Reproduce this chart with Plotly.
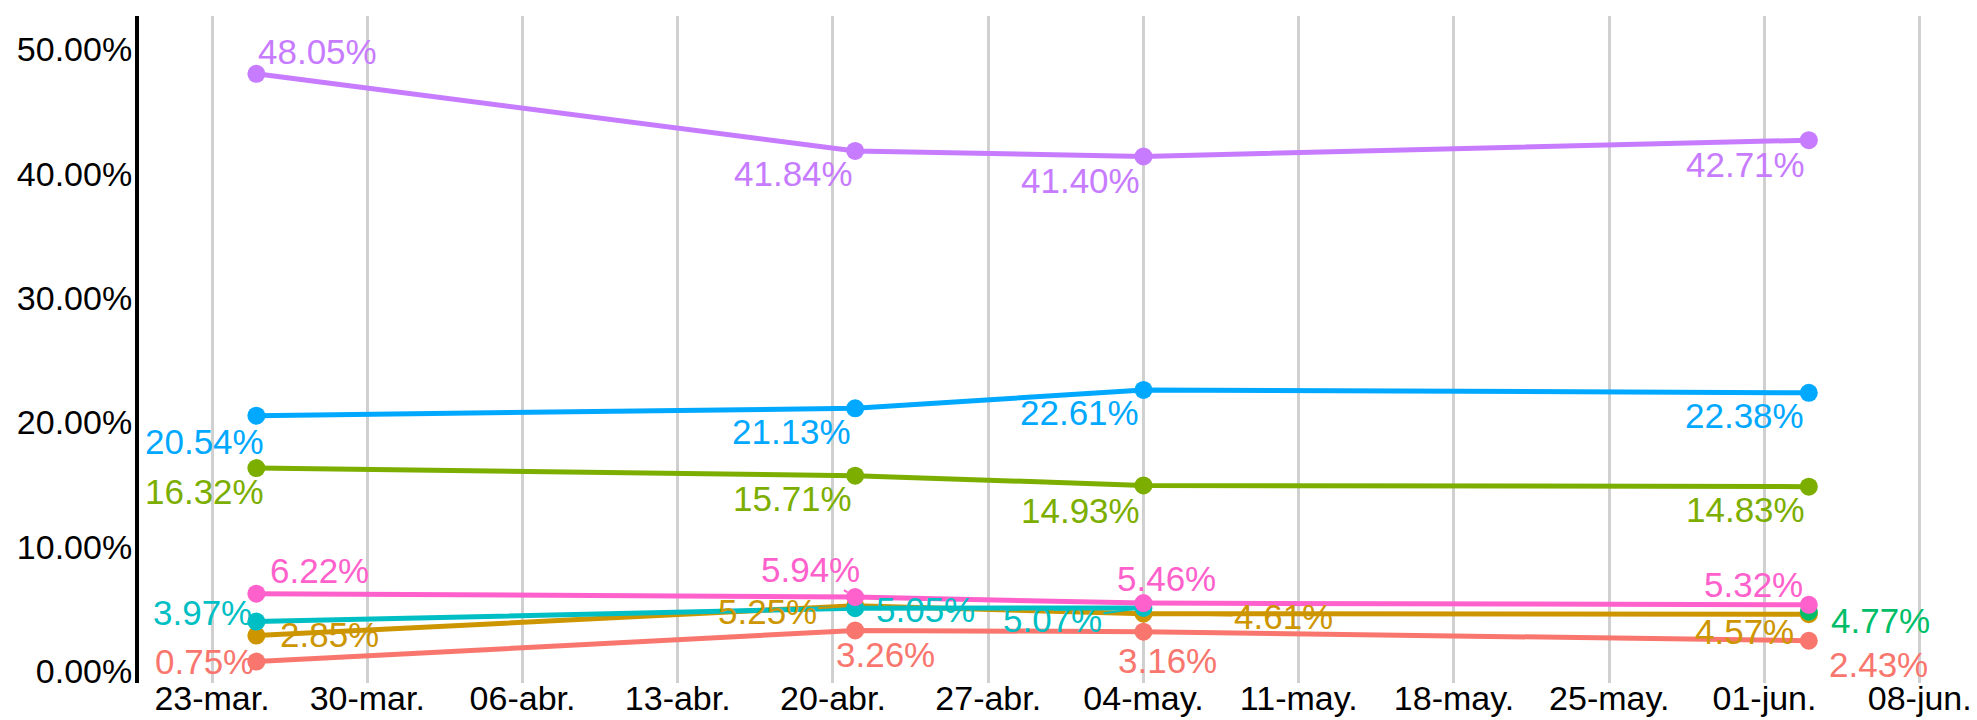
import plotly.graph_objects as go

# ---- data ----
series_names = ["s1", "s2", "s3", "s4", "s5", "s6", "s7", "s8"]
colors = ["#F8766D", "#CD9600", "#7CAE00", "#00BE67", "#00BFC4", "#00A9FF", "#C77CFF", "#FF61CC"]

dates_all = ["2020-03-25", "2020-04-21", "2020-05-04", "2020-06-03"]

red_dates = dates_all
red_vals = [0.75, 3.26, 3.16, 2.43]
gold_dates = dates_all
gold_vals = [2.85, 5.25, 4.61, 4.57]
olive_dates = dates_all
olive_vals = [16.32, 15.71, 14.93, 14.83]
green_dates = ["2020-06-03"]
green_vals = [4.77]
teal_dates = ["2020-03-25", "2020-04-21", "2020-05-04"]
teal_vals = [3.97, 5.05, 5.07]
blue_dates = dates_all
blue_vals = [20.54, 21.13, 22.61, 22.38]
purple_dates = dates_all
purple_vals = [48.05, 41.84, 41.40, 42.71]
pink_dates = dates_all
pink_vals = [6.22, 5.94, 5.46, 5.32]

tick_dates = ["2020-03-23", "2020-03-30", "2020-04-06", "2020-04-13", "2020-04-20", "2020-04-27",
              "2020-05-04", "2020-05-11", "2020-05-18", "2020-05-25", "2020-06-01", "2020-06-08"]
tick_labels = ["23-mar.", "30-mar.", "06-abr.", "13-abr.", "20-abr.", "27-abr.",
               "04-may.", "11-may.", "18-may.", "25-may.", "01-jun.", "08-jun."]
y_ticks = [0, 10, 20, 30, 40, 50]
y_tick_labels = ["0.00%", "10.00%", "20.00%", "30.00%", "40.00%", "50.00%"]

all_dates = [red_dates, gold_dates, olive_dates, green_dates, teal_dates, blue_dates, purple_dates, pink_dates]
all_vals = [red_vals, gold_vals, olive_vals, green_vals, teal_vals, blue_vals, purple_vals, pink_vals]

# label offsets (text centre relative to point, pixels, y downward); flag draws a leader line
label_offsets = [
    [(-52, 0, False), (30, 24, False), (24, 29, False), (70, 24, False)],          # red
    [(73, -1, False), (-88, 6, True), (140, 3, True), (-64, 17, False)],            # gold
    [(-52, 23, False), (-63, 23, False), (-63, 25, False), (-63, 23, False)],       # olive
    [(72, 9, False)],                                                                # green
    [(-54, -9, False), (70, 1, False), (-91, 12, True)],                             # teal
    [(-52, 26, False), (-64, 23, False), (-64, 23, False), (-64, 23, False)],       # blue
    [(61, -22, False), (-62, 23, False), (-63, 24, False), (-63, 24, False)],       # purple
    [(63, -23, False), (-45, -28, True), (23, -25, False), (-55, -20, False)],      # pink
]

FONT = "Liberation Sans, Arial, sans-serif"
LABEL_SIZE = 35
TICK_SIZE = 34

fig = go.Figure()
for name, col, ds, vs in zip(series_names, colors, all_dates, all_vals):
    fig.add_trace(go.Scatter(
        x=ds, y=vs, mode="lines+markers", name=name,
        line=dict(color=col, width=5),
        marker=dict(color=col, size=18),
        showlegend=False, hoverinfo="skip",
    ))

annotations = []
for col, ds, vs, offs in zip(colors, all_dates, all_vals, label_offsets):
    for d, v, (dx, dy, seg) in zip(ds, vs, offs):
        txt = f"{v:.2f}%"
        if seg:
            annotations.append(dict(
                x=d, y=v, xref="x", yref="y", text=txt,
                showarrow=True, ax=dx, ay=dy, arrowhead=0, arrowwidth=2,
                arrowcolor=col, standoff=9,
                font=dict(family=FONT, size=LABEL_SIZE, color=col),
            ))
        else:
            annotations.append(dict(
                x=d, y=v, xref="x", yref="y", text=txt,
                showarrow=False, xanchor="center", yanchor="middle",
                xshift=dx, yshift=-dy,
                font=dict(family=FONT, size=LABEL_SIZE, color=col),
            ))

fig.update_layout(
    width=1977, height=720,
    margin=dict(l=139, r=12, t=16, b=37, autoexpand=False),
    paper_bgcolor="white", plot_bgcolor="white",
    font=dict(family=FONT, size=TICK_SIZE, color="black"),
    annotations=annotations,
    xaxis=dict(
        type="date", automargin=False,
        range=["2020-03-19 17:00", "2020-06-10 01:00"],
        tickvals=tick_dates, ticktext=tick_labels,
        showgrid=True, gridcolor="#D0D0D0", gridwidth=2.5,
        showline=False, zeroline=False,
        ticks="", ticklabelstandoff=-8,
        tickfont=dict(family=FONT, size=TICK_SIZE, color="black"),
    ),
    yaxis=dict(
        automargin=False,
        range=[-0.97, 52.7],
        tickvals=y_ticks, ticktext=y_tick_labels,
        showgrid=False, zeroline=False,
        showline=True, linecolor="black", linewidth=4,
        ticks="", ticklabelstandoff=-4,
        tickfont=dict(family=FONT, size=TICK_SIZE, color="black"),
    ),
)

fig.write_html(
    "out.html",
    config={"displayModeBar": False},
    post_script="document.body.style.margin='0px';document.body.style.overflow='hidden';",
)
